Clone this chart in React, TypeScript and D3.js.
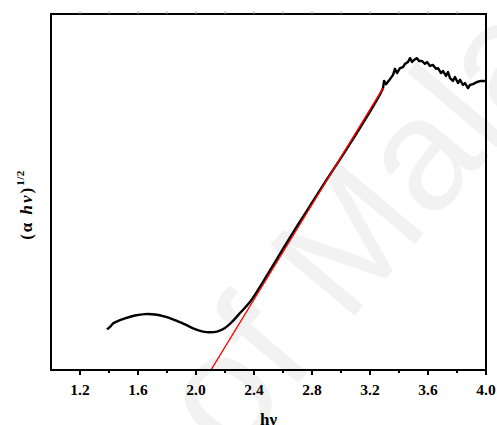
import React from "react";
import * as d3 from "d3";

// Tauc plot: (αhν)^1/2 versus photon energy hν (eV)
const xTicks = [1.2, 1.6, 2.0, 2.4, 2.8, 3.2, 3.6, 4.0];
const xMinorTicks = [1.4, 1.8, 2.2, 2.6, 3.0, 3.4, 3.8];
const topTicks = [1.2, 1.4, 1.6, 1.8, 2.0, 2.2, 2.4, 2.6, 2.8, 3.0, 3.2, 3.4, 3.6, 3.8];

// Smooth absorption curve below the band edge and along the linear rise
const hvSmooth = [1.386, 1.414, 1.428, 1.448, 1.51, 1.579, 1.648, 1.717, 1.786, 1.855, 1.924, 1.993, 2.048, 2.097, 2.145, 2.2, 2.255, 2.31, 2.372, 2.428, 2.5, 2.6, 2.7, 2.8, 2.9, 3.0, 3.1, 3.2, 3.27, 3.29];
const ahvSmooth = [11.4, 12.4, 13.1, 13.5, 14.5, 15.3, 15.7, 15.6, 15.0, 14.0, 12.8, 11.5, 10.8, 10.6, 10.8, 11.8, 13.8, 16.3, 19.1, 22.5, 27.3, 34.0, 40.6, 47.0, 53.4, 59.6, 66.0, 72.6, 77.5, 79.2];

// Noisy high-energy part of the spectrum
const hvNoisy = [3.29, 3.297, 3.31, 3.338, 3.359, 3.372, 3.386, 3.407, 3.428, 3.441, 3.462, 3.476, 3.49, 3.503, 3.524, 3.538, 3.559, 3.579, 3.593, 3.614, 3.634, 3.655, 3.669, 3.69, 3.703, 3.724, 3.738, 3.752, 3.772, 3.786, 3.807, 3.821, 3.841, 3.855, 3.876, 3.89, 3.91, 3.938, 3.966, 4.0];
const ahvNoisy = [79.2, 81.2, 80.3, 81.7, 82.9, 84.6, 83.4, 84.8, 85.1, 86.0, 86.5, 87.6, 86.5, 87.1, 87.6, 86.8, 86.8, 86.0, 86.5, 85.4, 85.7, 84.6, 84.8, 83.4, 84.0, 82.6, 83.7, 82.0, 81.2, 82.3, 80.6, 81.5, 80.1, 80.6, 79.2, 80.1, 80.3, 80.9, 81.2, 81.2];

// Linear fit of the band edge, extrapolated to the energy axis
const fitHv = [2.103, 3.29];
const fitAhv = [0, 79.2];

const W = 497;
const H = 425;
const margin = { left: 51, right: 11, top: 14, bottom: 55 };
const serif = "Liberation Serif";

export default function App() {
  const x = d3.scaleLinear().domain([1.0, 4.0]).range([margin.left, W - margin.right]);
  const y = d3.scaleLinear().domain([0, 100]).range([H - margin.bottom, margin.top]);

  const smooth = hvSmooth.map((v, i) => [v, ahvSmooth[i]] as [number, number]);
  const noisy = hvNoisy.map((v, i) => [v, ahvNoisy[i]] as [number, number]);
  const fit = fitHv.map((v, i) => [v, fitAhv[i]] as [number, number]);

  const smoothLine = d3
    .line<[number, number]>()
    .x((d) => x(d[0]))
    .y((d) => y(d[1]))
    .curve(d3.curveCatmullRom);
  const straight = d3
    .line<[number, number]>()
    .x((d) => x(d[0]))
    .y((d) => y(d[1]));

  const x0 = margin.left;
  const x1 = W - margin.right;
  const y0 = H - margin.bottom;
  const y1 = margin.top;

  return (
    <svg
      width={W}
      height={H}
      style={{ position: "absolute", left: 0, top: 0, background: "#fff" }}
    >
      <text
        x={0}
        y={0}
        transform="translate(232,462) rotate(-50)"
        fontFamily="Liberation Sans"
        fontSize={160}
        fill="#f2f2f2"
      >
        of Malaya
      </text>

      <path d={smoothLine(smooth) ?? ""} fill="none" stroke="#000" strokeWidth={2.4} strokeLinejoin="round" />
      <path d={straight(noisy) ?? ""} fill="none" stroke="#000" strokeWidth={2.4} strokeLinejoin="round" />
      <path d={straight(fit) ?? ""} fill="none" stroke="#ff0000" strokeWidth={1.4} />

      {/* frame */}
      <rect x={x0} y={y1} width={x1 - x0} height={y0 - y1} fill="none" stroke="#000" strokeWidth={2} />

      {/* top ticks */}
      {topTicks.map((t) => (
        <line key={"tt" + t} x1={x(t)} x2={x(t)} y1={y1} y2={y1 - 2.5} stroke="#999" strokeWidth={1} />
      ))}

      {/* bottom ticks */}
      {xTicks.map((t) => (
        <line key={"bt" + t} x1={x(t)} x2={x(t)} y1={y0} y2={y0 + 5} stroke="#000" strokeWidth={2} />
      ))}
      {xMinorTicks.map((t) => (
        <line key={"bm" + t} x1={x(t)} x2={x(t)} y1={y0} y2={y0 + 3} stroke="#000" strokeWidth={2} />
      ))}
      {xTicks.map((t) => (
        <text
          key={"bl" + t}
          x={x(t)}
          y={395}
          textAnchor="middle"
          fontFamily={serif}
          fontWeight="bold"
          fontSize={15.5}
          fill="#000"
        >
          {t.toFixed(1)}
        </text>
      ))}

      <text
        x={(x0 + x1) / 2}
        y={425}
        textAnchor="middle"
        fontFamily={serif}
        fontWeight="bold"
        fontSize={17}
        fill="#000"
      >
        hν
      </text>

      <text
        transform="translate(32,205) rotate(-90)"
        textAnchor="middle"
        fontFamily={serif}
        fontWeight="bold"
        fontSize={17}
        letterSpacing={2}
        fill="#000"
      >
        (α <tspan fontStyle="italic">hν</tspan>)
        <tspan fontSize={11} dy={-8} letterSpacing={0.5}>1/2</tspan>
      </text>
    </svg>
  );
}
